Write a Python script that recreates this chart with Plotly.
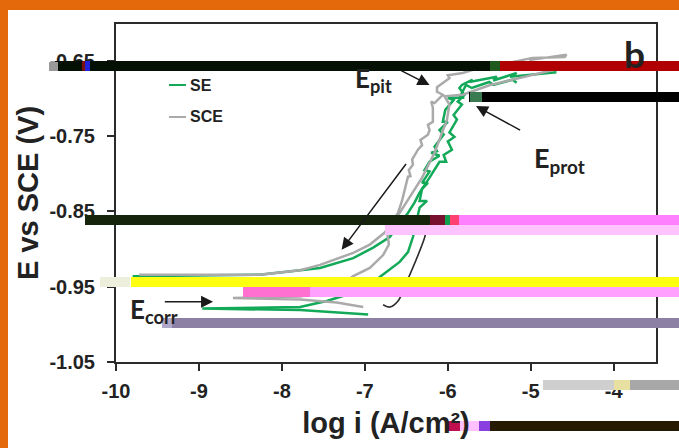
import plotly.graph_objects as go

# ---- chart data ----
se_up_x = [-9.80,-8.27,-7.78,-7.54,-7.14,-6.90,-6.70,-6.48,-6.40,-6.34,-6.22,-6.14,-6.10,-6.02,-6.05,-5.95,-6.00,-5.92,-5.98,-5.89,-5.93,-5.83,-5.88,-5.80,-5.86,-5.83,-5.70,-5.74,-5.41,-5.45,-5.17,-5.25,-4.69]
se_up_y = [-0.936,-0.934,-0.928,-0.925,-0.912,-0.898,-0.884,-0.852,-0.838,-0.825,-0.805,-0.790,-0.784,-0.784,-0.775,-0.768,-0.757,-0.751,-0.745,-0.728,-0.722,-0.708,-0.704,-0.695,-0.686,-0.682,-0.675,-0.678,-0.671,-0.676,-0.666,-0.671,-0.665]
se_down_x = [-5.17,-5.22,-5.45,-5.50,-5.71,-5.78,-5.86,-5.80,-6.00,-5.93,-6.03,-6.06,-6.00,-6.10,-6.05,-6.16,-6.13,-6.20,-6.10,-6.22,-6.28,-6.22,-6.31,-6.24,-6.31,-6.34,-6.25,-6.34,-6.42,-6.48,-6.58,-6.82,-6.96,-7.14,-7.46,-7.78,-8.96,-7.78,-7.54,-6.96]
se_down_y = [-0.679,-0.675,-0.682,-0.678,-0.686,-0.682,-0.699,-0.699,-0.699,-0.702,-0.715,-0.731,-0.731,-0.742,-0.748,-0.764,-0.770,-0.772,-0.776,-0.784,-0.795,-0.797,-0.812,-0.812,-0.820,-0.836,-0.836,-0.845,-0.884,-0.904,-0.917,-0.937,-0.949,-0.958,-0.969,-0.977,-0.979,-0.981,-0.983,-0.987]
sce_up_x = [-9.72,-8.27,-7.78,-7.54,-7.14,-6.94,-6.76,-6.60,-6.55,-6.52,-6.48,-6.45,-6.47,-6.42,-6.43,-6.36,-6.31,-6.33,-6.24,-6.22,-6.24,-6.18,-6.18,-6.20,-6.16,-6.06,-6.13,-6.13,-5.98,-6.00,-5.82,-5.61,-5.37,-4.98,-4.59,-4.57,-5.02]
sce_up_y = [-0.934,-0.934,-0.928,-0.921,-0.905,-0.894,-0.878,-0.852,-0.835,-0.821,-0.804,-0.803,-0.795,-0.788,-0.781,-0.768,-0.762,-0.755,-0.748,-0.742,-0.735,-0.731,-0.712,-0.704,-0.706,-0.695,-0.691,-0.685,-0.673,-0.669,-0.666,-0.659,-0.655,-0.646,-0.645,-0.642,-0.649]
sce_down_x = [-4.73,-5.13,-5.49,-5.82,-6.04,-5.98,-6.01,-6.16,-6.31,-6.58,-6.73,-6.71,-6.78,-6.94,-7.14,-7.36,-7.78,-8.59,-7.78,-7.34,-7.02]
sce_down_y = [-0.662,-0.673,-0.682,-0.695,-0.697,-0.708,-0.728,-0.772,-0.805,-0.852,-0.878,-0.894,-0.908,-0.925,-0.936,-0.954,-0.963,-0.965,-0.967,-0.971,-0.977]
pointer_x = [-6.24,-6.28,-6.52,-6.60,-6.70,-6.78]
pointer_y = [-0.866,-0.885,-0.950,-0.969,-0.977,-0.974]
x_ticks = [-10,-9,-8,-7,-6,-5,-4]
y_ticks = [-1.05,-0.95,-0.85,-0.75,-0.65]

GREEN = "#12A958"
GRAY = "#AAAAAA"
DARK = "#2B2B2B"
ORANGE = "#E4690A"
W, H = 679, 448
L, R, T, B = 116, 656, 24, 362

def px(x): return (x - L) / (R - L)
def py(y): return (B - y) / (B - T)

fig = go.Figure()
for name, xs, ys, color in [
    ("SE", se_up_x, se_up_y, GREEN),
    ("SCE", sce_up_x, sce_up_y, GRAY),
    ("SE", se_down_x, se_down_y, GREEN),
    ("SCE", sce_down_x, sce_down_y, GRAY),
]:
    fig.add_trace(go.Scatter(x=xs, y=ys, name=name, mode="lines", showlegend=False,
                             line=dict(color=color, width=2.5)))
fig.add_trace(go.Scatter(x=pointer_x, y=pointer_y, mode="lines", showlegend=False, hoverinfo="skip",
                         line=dict(color=DARK, width=1.6, shape="spline")))

def rect(x0, x1, y0, y1, color):
    return dict(type="rect", xref="paper", yref="paper", x0=px(x0), x1=px(x1), y0=py(y1), y1=py(y0),
                fillcolor=color, line_width=0, layer="above")

# image-corruption bands and the frame of the source picture
decor = [
    (0, 679, 0, 10, ORANGE), (0, 8, 0, 448, ORANGE),
    (55, 490, 61, 71, "#031003"), (49, 58, 62, 71, "#999999"), (82, 85, 61, 71, "#7A1010"),
    (85, 90, 61, 71, "#2222DD"), (490, 500, 61, 71, "#1E5A1E"), (500, 679, 61, 71, "#B00000"),
    (469, 679, 92, 102, "#000000"), (470, 482, 92, 102, "#3A7A50"),
    (85, 430, 215, 225, "#16240C"), (430, 445, 215, 225, "#7A1030"), (445, 450, 215, 225, "#10A050"),
    (450, 459, 215, 225, "#FF4070"), (459, 679, 215, 225, "#FF80FF"),
    (385, 679, 225, 235, "#FFC4FF"),
    (100, 130, 277, 287, "#EEEEDD"), (131, 679, 277, 287, "#FFFF10"),
    (243, 310, 287, 297, "#FF70D0"), (310, 679, 287, 297, "#FFA0FF"),
    (162, 679, 318, 328, "#8C80A5"), (162, 172, 318, 328, "#B0A8C8"),
    (543, 614, 380, 390, "#CFCFCF"), (614, 630, 380, 390, "#E8E0A0"), (630, 679, 380, 390, "#A8A8A8"),
    (448, 460, 421, 431, "#C01050"), (460, 479, 421, 431, "#FFC0FF"), (479, 490, 421, 431, "#8A40E0"),
    (490, 679, 421, 431, "#261A00"),
]
shapes = [rect(*d) for d in decor]
shapes += [
    dict(type="line", xref="paper", yref="paper", x0=px(169), x1=px(186), y0=py(85), y1=py(85),
         line=dict(color=GREEN, width=2)),
    dict(type="line", xref="paper", yref="paper", x0=px(169), x1=px(186), y0=py(117), y1=py(117),
         line=dict(color=GRAY, width=2)),
]

def label(text, x, y, size, font="Lato", color="#222222"):
    return dict(text=text, xref="paper", yref="paper", x=px(x), y=py(y), xanchor="left", yanchor="middle",
                showarrow=False, font=dict(family=font, size=size, color=color))

def arrow(x0, y0, x1, y1):
    return dict(x=x1, y=y1, ax=x0, ay=y0, xref="x", yref="y", axref="x", ayref="y", text="",
                showarrow=True, arrowhead=2, arrowsize=1.6, arrowwidth=1.5, arrowcolor="#1A1A1A")

annotations = [
    label("<b>SE</b>", 188, 85, 16, "Liberation Sans"),
    label("<b>SCE</b>", 188, 117, 16, "Liberation Sans"),
    label("<b>b</b>", 622, 53, 37),
    label("<b>E<sub>pit</sub></b>", 353, 79, 26),
    label("<b>E<sub>prot</sub></b>", 532, 159, 27),
    label("<b>E<sub>corr</sub></b>", 128, 310, 26),
    arrow(-6.58, -0.662, -6.22, -0.682),
    arrow(-5.11, -0.743, -5.66, -0.710),
    arrow(-9.43, -0.970, -8.83, -0.970),
    arrow(-6.49, -0.785, -7.28, -0.901),
]

axis = dict(showgrid=False, zeroline=False, showline=True, mirror=True, linecolor=DARK, linewidth=2,
            ticks="outside", ticklen=7, tickwidth=2, tickcolor=DARK,
            tickfont=dict(family="Liberation Sans", size=20, color="#222222", weight="bold"))
fig.update_layout(
    width=W, height=H, margin=dict(l=L, r=W - R, t=T, b=H - B, autoexpand=False),
    paper_bgcolor="white", plot_bgcolor="white", showlegend=False,
    xaxis=dict(axis, range=[-10, -3.49], tickvals=x_ticks, ticktext=[str(v) for v in x_ticks],
               ticklabelstandoff=3,
               title=dict(text="<b>log i (A/cm²)</b>", standoff=12,
                          font=dict(family="Liberation Sans", size=29, color="#222222"))),
    yaxis=dict(axis, range=[-1.05, -0.601], tickvals=y_ticks, ticktext=[f"{v:.2f}" for v in y_ticks],
               ticklabelstandoff=8,
               title=dict(text="<b>E vs SCE (V)</b>", standoff=2,
                          font=dict(family="Liberation Sans", size=29, color="#222222"))),
    shapes=shapes, annotations=annotations,
)
fig.write_html("out.html", config={"displayModeBar": False}, post_script="document.body.style.margin='0';")
